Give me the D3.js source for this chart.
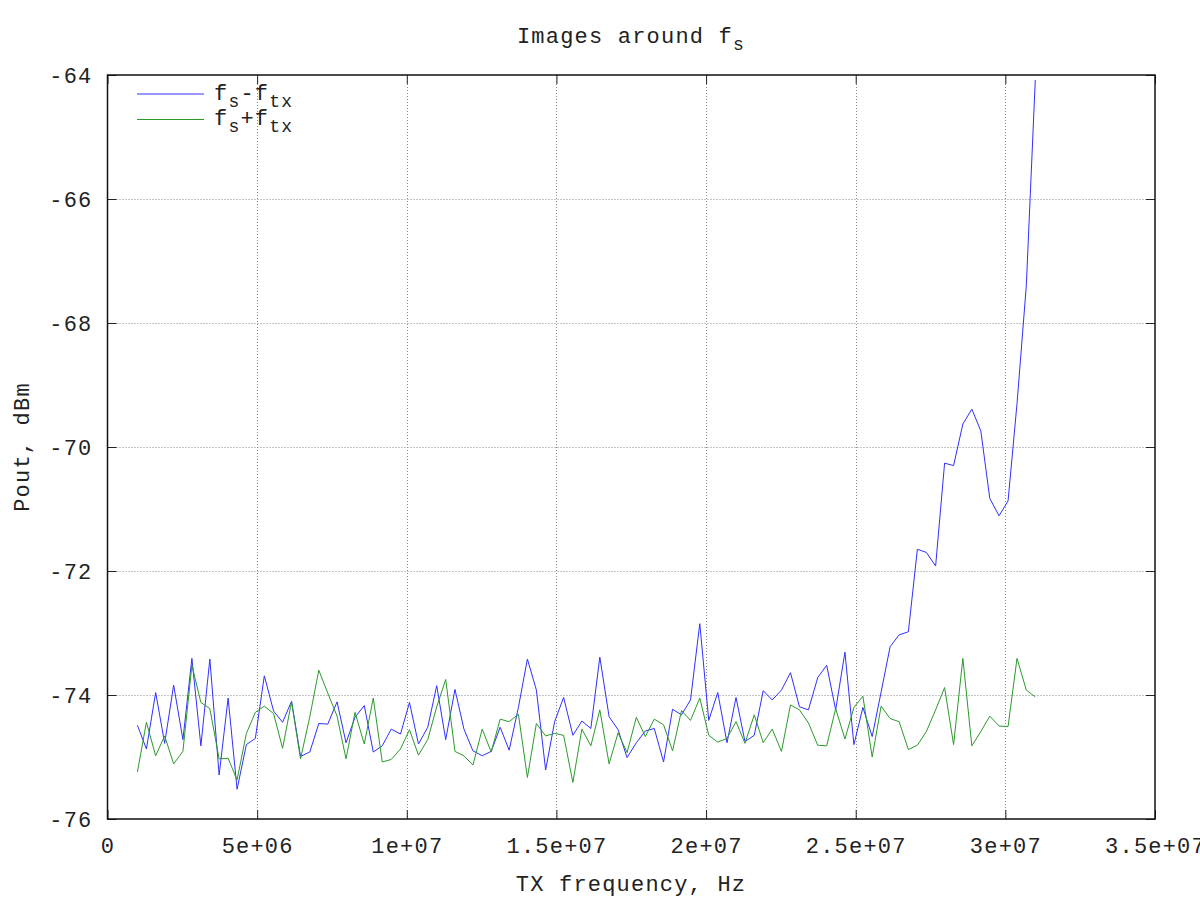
<!DOCTYPE html>
<html><head><meta charset="utf-8">
<script src="https://cdn.jsdelivr.net/npm/d3@7"></script>
<style>
body{margin:0;background:#fff}
svg text{font-family:"Liberation Mono",monospace;font-size:22px;letter-spacing:1.2px;fill:#222}
</style>
</head><body>
<svg id="chart" width="1200" height="900"></svg>
<script>
// TX frequency in MHz (100 points)
const freqMHz = [1.00,1.30,1.61,1.91,2.21,2.52,2.82,3.12,3.42,3.73,4.03,4.33,4.64,4.94,5.24,5.55,5.85,6.15,6.45,6.76,
7.06,7.36,7.67,7.97,8.27,8.58,8.88,9.18,9.48,9.79,10.09,10.39,10.70,11.00,11.30,11.61,11.91,12.21,12.52,12.82,
13.12,13.42,13.73,14.03,14.33,14.64,14.94,15.24,15.55,15.85,16.15,16.45,16.76,17.06,17.36,17.67,17.97,18.27,18.58,18.88,
19.18,19.48,19.79,20.09,20.39,20.70,21.00,21.30,21.61,21.91,22.21,22.52,22.82,23.12,23.42,23.73,24.03,24.33,24.64,24.94,
25.24,25.55,25.85,26.15,26.45,26.76,27.06,27.36,27.67,27.97,28.27,28.58,28.88,29.18,29.48,29.79,30.09,30.39,30.70,31.00];

// f_s - f_tx image, dBm
const poutMinus = [-74.49,-74.87,-73.96,-74.78,-73.84,-74.72,-73.41,-74.82,-73.42,-75.29,
-74.05,-75.52,-74.80,-74.70,-73.69,-74.26,-74.44,-74.10,-74.99,-74.92,
-74.46,-74.47,-74.11,-74.77,-74.36,-74.17,-74.92,-74.82,-74.55,-74.63,
-74.12,-74.79,-74.52,-73.85,-74.72,-73.91,-74.55,-74.90,-74.98,-74.91,
-74.52,-74.89,-74.20,-73.42,-73.92,-75.21,-74.43,-74.04,-74.65,-74.42,
-74.54,-73.39,-74.35,-74.56,-75.01,-74.77,-74.58,-74.54,-75.08,-74.23,
-74.32,-74.08,-72.85,-74.41,-73.96,-74.77,-74.04,-74.75,-74.65,-73.93,
-74.08,-73.92,-73.64,-74.19,-74.24,-73.72,-73.52,-74.24,-73.31,-74.80,
-74.20,-74.67,-73.95,-73.22,-73.03,-72.98,-71.65,-71.70,-71.92,-70.26,
-70.30,-69.63,-69.39,-69.74,-70.83,-71.11,-70.87,-69.30,-67.40,-64.08];

// f_s + f_tx image, dBm
const poutPlus = [-75.24,-74.44,-74.98,-74.66,-75.11,-74.91,-73.52,-74.12,-74.22,-75.03,
-75.02,-75.37,-74.62,-74.28,-74.18,-74.30,-74.86,-74.11,-75.03,-74.35,
-73.60,-73.97,-74.34,-75.03,-74.28,-74.79,-74.05,-75.08,-75.04,-74.87,
-74.56,-74.97,-74.72,-74.19,-73.75,-74.91,-74.98,-75.13,-74.55,-74.92,
-74.39,-74.43,-74.31,-75.33,-74.46,-74.66,-74.62,-74.65,-75.41,-74.55,
-74.82,-74.24,-75.11,-74.61,-74.93,-74.36,-74.67,-74.39,-74.48,-74.90,
-74.25,-74.41,-74.05,-74.65,-74.76,-74.70,-74.43,-74.78,-74.32,-74.77,
-74.55,-74.91,-74.16,-74.24,-74.45,-74.81,-74.82,-74.22,-74.71,-74.20,
-74.02,-75.00,-74.18,-74.38,-74.43,-74.88,-74.81,-74.59,-74.24,-73.88,
-74.80,-73.41,-74.82,-74.59,-74.34,-74.50,-74.51,-73.41,-73.92,-74.03];

const xTicks = [0, 5e6, 1e7, 1.5e7, 2e7, 2.5e7, 3e7, 3.5e7];
const xTickLabels = ["0","5e+06","1e+07","1.5e+07","2e+07","2.5e+07","3e+07","3.5e+07"];
const yTicks = [-76, -74, -72, -70, -68, -66, -64];
const yTickLabels = ["-76","-74","-72","-70","-68","-66","-64"];

const seriesNames = [["f","s","-f","tx"], ["f","s","+f","tx"]];
const seriesColors = ["#3030ff", "#2a9a2a"];

const L = 107.5, R = 1155, T = 75, B = 819;
const svg = d3.select("#chart");
const x = d3.scaleLinear().domain([0, 3.5e7]).range([L, R]);
const y = d3.scaleLinear().domain([-76, -64]).range([B, T]);

// grid
const grid = svg.append("g").attr("stroke", "#888").attr("stroke-width", 1).attr("stroke-dasharray", "1,2");
grid.selectAll("line.gx").data(xTicks.filter(v => v > 0 && v < 3.5e7)).join("line")
  .attr("x1", d => Math.round(x(d)) + 0.5).attr("x2", d => Math.round(x(d)) + 0.5)
  .attr("y1", T).attr("y2", B);
grid.selectAll("line.gy").data(yTicks.filter(v => v > -76 && v < -64)).join("line")
  .attr("y1", d => Math.round(y(d)) + 0.5).attr("y2", d => Math.round(y(d)) + 0.5)
  .attr("x1", L).attr("x2", R);

// axes with inward ticks
const xLab = d => xTickLabels[xTicks.indexOf(d)];
const yLab = d => yTickLabels[yTicks.indexOf(d)];
const axB = svg.append("g").attr("transform", `translate(0,${B})`)
  .call(d3.axisBottom(x).tickValues(xTicks).tickFormat(xLab).tickSize(-9));
const axT = svg.append("g").attr("transform", `translate(0,${T})`)
  .call(d3.axisTop(x).tickValues(xTicks).tickFormat("").tickSize(-9));
const axL = svg.append("g").attr("transform", `translate(${L},0)`)
  .call(d3.axisLeft(y).tickValues(yTicks).tickFormat(yLab).tickSize(-9));
const axR = svg.append("g").attr("transform", `translate(${R},0)`)
  .call(d3.axisRight(y).tickValues(yTicks).tickFormat("").tickSize(-9));
[axB, axT, axL, axR].forEach(a => {
  a.select(".domain").remove();
  a.selectAll(".tick line").attr("stroke", "#222");
  a.attr("font-family", null).attr("font-size", null);
});
axB.selectAll(".tick text").attr("y", 34).attr("dy", null).attr("fill", null);
axL.selectAll(".tick text").attr("x", -15).attr("dy", "7.5").attr("fill", null);

// data lines
const line = d3.line().x((d, i) => x(freqMHz[i] * 1e6)).y(d => y(d));
[poutMinus, poutPlus].forEach((s, k) => {
  svg.append("path").datum(s).attr("d", line).attr("fill", "none")
    .attr("stroke", seriesColors[k]).attr("stroke-width", 1);
});

// box
svg.append("rect").attr("x", L).attr("y", T).attr("width", R - L).attr("height", B - T)
  .attr("fill", "none").attr("stroke", "#111").attr("stroke-width", 1.5);

// legend
const legRows = [94, 119.5];
seriesNames.forEach((parts, k) => {
  svg.append("line").attr("x1", 137).attr("x2", 204).attr("y1", legRows[k]).attr("y2", legRows[k])
    .attr("stroke", seriesColors[k]).attr("stroke-width", 1);
  const t = svg.append("text").attr("x", 214).attr("y", legRows[k] + 5.5);
  t.append("tspan").text(parts[0]);
  t.append("tspan").attr("dy", 7).attr("font-size", "18px").text(parts[1]);
  t.append("tspan").attr("dy", -7).text(parts[2]);
  t.append("tspan").attr("dy", 7).attr("font-size", "18px").text(parts[3]);
});

// title
const title = svg.append("text").attr("x", 631).attr("y", 43).attr("text-anchor", "middle");
title.append("tspan").text("Images around f");
title.append("tspan").attr("dy", 7).attr("font-size", "18px").text("s");

// axis labels
svg.append("text").attr("x", 631).attr("y", 891).attr("text-anchor", "middle").text("TX frequency, Hz");
svg.append("text").attr("transform", "translate(29,447) rotate(-90)").attr("text-anchor", "middle").text("Pout, dBm");
</script>
</body></html>
